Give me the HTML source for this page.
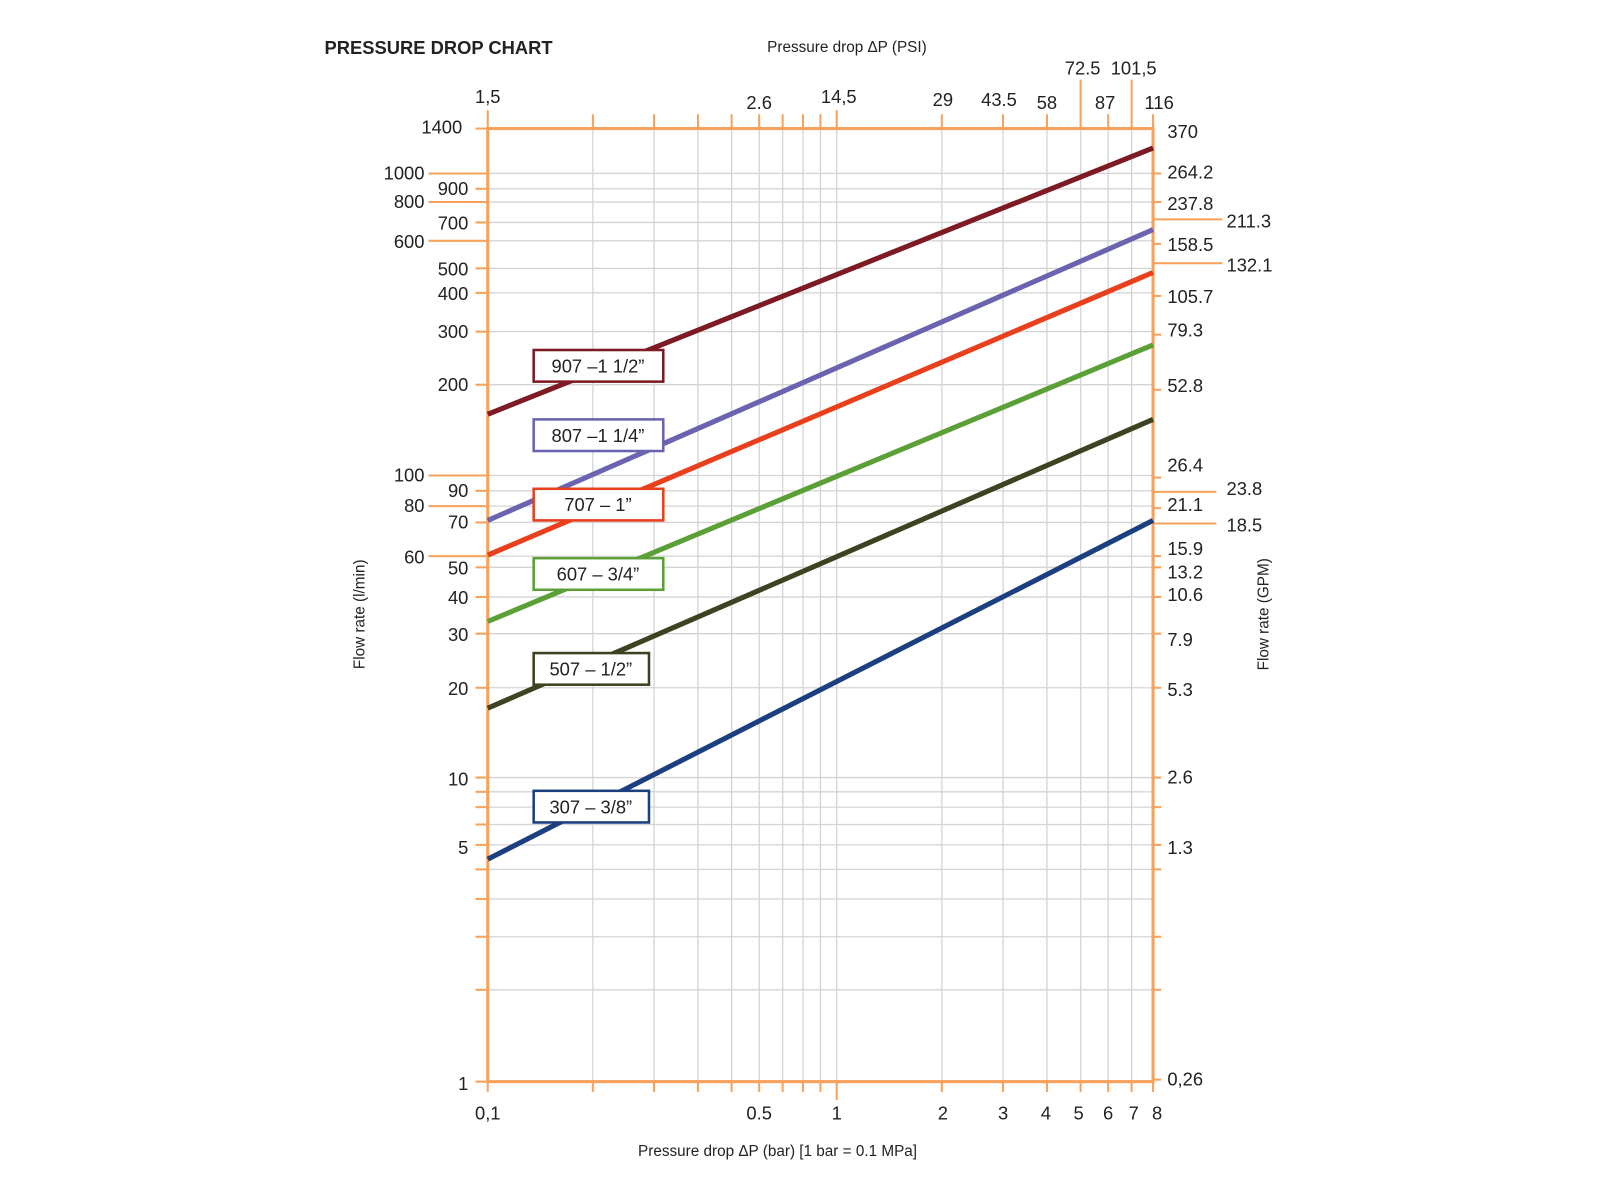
<!DOCTYPE html>
<html><head><meta charset="utf-8"><style>html,body{margin:0;padding:0;background:#fff}svg{display:block}text{font-family:"Liberation Sans",Arial,sans-serif;fill:#222}</style></head>
<body>
<svg width="1600" height="1200" viewBox="0 0 1568 1176" xmlns="http://www.w3.org/2000/svg">
<rect width="1568" height="1176" fill="#fff"/>
<g stroke="#d4d4d4" stroke-width="1.3">
<line x1="581" y1="126" x2="581" y2="1060"/><line x1="641" y1="126" x2="641" y2="1060"/><line x1="684" y1="126" x2="684" y2="1060"/><line x1="717" y1="126" x2="717" y2="1060"/><line x1="744" y1="126" x2="744" y2="1060"/><line x1="767" y1="126" x2="767" y2="1060"/><line x1="787" y1="126" x2="787" y2="1060"/><line x1="804" y1="126" x2="804" y2="1060"/><line x1="820" y1="126" x2="820" y2="1060"/><line x1="923" y1="126" x2="923" y2="1060"/><line x1="983" y1="126" x2="983" y2="1060"/><line x1="1026" y1="126" x2="1026" y2="1060"/><line x1="1059" y1="126" x2="1059" y2="1060"/><line x1="1086" y1="126" x2="1086" y2="1060"/><line x1="1109" y1="126" x2="1109" y2="1060"/>
<line x1="478" y1="170" x2="1130" y2="170"/><line x1="478" y1="185" x2="1130" y2="185"/><line x1="478" y1="198" x2="1130" y2="198"/><line x1="478" y1="218" x2="1130" y2="218"/><line x1="478" y1="236" x2="1130" y2="236"/><line x1="478" y1="263" x2="1130" y2="263"/><line x1="478" y1="287" x2="1130" y2="287"/><line x1="478" y1="325" x2="1130" y2="325"/><line x1="478" y1="377" x2="1130" y2="377"/><line x1="478" y1="466" x2="1130" y2="466"/><line x1="478" y1="481" x2="1130" y2="481"/><line x1="478" y1="496" x2="1130" y2="496"/><line x1="478" y1="512" x2="1130" y2="512"/><line x1="478" y1="545" x2="1130" y2="545"/><line x1="478" y1="556" x2="1130" y2="556"/><line x1="478" y1="585" x2="1130" y2="585"/><line x1="478" y1="621" x2="1130" y2="621"/><line x1="478" y1="674" x2="1130" y2="674"/><line x1="478" y1="762" x2="1130" y2="762"/><line x1="478" y1="776" x2="1130" y2="776"/><line x1="478" y1="791" x2="1130" y2="791"/><line x1="478" y1="808" x2="1130" y2="808"/><line x1="478" y1="828" x2="1130" y2="828"/><line x1="478" y1="852" x2="1130" y2="852"/><line x1="478" y1="881" x2="1130" y2="881"/><line x1="478" y1="918" x2="1130" y2="918"/><line x1="478" y1="970" x2="1130" y2="970"/>
</g>
<g stroke="#f7a15a" stroke-width="2">
<rect x="478" y="126" width="652" height="934" fill="none" stroke-width="3"/>
<line x1="478" y1="108" x2="478" y2="126"/><line x1="581" y1="112" x2="581" y2="126"/><line x1="641" y1="112" x2="641" y2="126"/><line x1="684" y1="112" x2="684" y2="126"/><line x1="717" y1="112" x2="717" y2="126"/><line x1="744" y1="112" x2="744" y2="126"/><line x1="767" y1="112" x2="767" y2="126"/><line x1="787" y1="112" x2="787" y2="126"/><line x1="804" y1="112" x2="804" y2="126"/><line x1="820" y1="108" x2="820" y2="126"/><line x1="923" y1="112" x2="923" y2="126"/><line x1="983" y1="112" x2="983" y2="126"/><line x1="1026" y1="112" x2="1026" y2="126"/><line x1="1059" y1="78" x2="1059" y2="126"/><line x1="1086" y1="112" x2="1086" y2="126"/><line x1="1109" y1="78" x2="1109" y2="126"/><line x1="1130" y1="112" x2="1130" y2="126"/>
<line x1="478" y1="1060" x2="478" y2="1070"/><line x1="581" y1="1060" x2="581" y2="1070"/><line x1="641" y1="1060" x2="641" y2="1070"/><line x1="684" y1="1060" x2="684" y2="1070"/><line x1="717" y1="1060" x2="717" y2="1070"/><line x1="744" y1="1060" x2="744" y2="1070"/><line x1="767" y1="1060" x2="767" y2="1070"/><line x1="787" y1="1060" x2="787" y2="1070"/><line x1="804" y1="1060" x2="804" y2="1070"/><line x1="820" y1="1060" x2="820" y2="1078"/><line x1="923" y1="1060" x2="923" y2="1070"/><line x1="983" y1="1060" x2="983" y2="1070"/><line x1="1026" y1="1060" x2="1026" y2="1070"/><line x1="1059" y1="1060" x2="1059" y2="1070"/><line x1="1086" y1="1060" x2="1086" y2="1070"/><line x1="1109" y1="1060" x2="1109" y2="1070"/><line x1="1130" y1="1060" x2="1130" y2="1070"/>
<line x1="466" y1="126" x2="478" y2="126"/><line x1="420" y1="170" x2="478" y2="170"/><line x1="466" y1="185" x2="478" y2="185"/><line x1="420" y1="198" x2="478" y2="198"/><line x1="466" y1="218" x2="478" y2="218"/><line x1="420" y1="236" x2="478" y2="236"/><line x1="466" y1="263" x2="478" y2="263"/><line x1="466" y1="287" x2="478" y2="287"/><line x1="466" y1="325" x2="478" y2="325"/><line x1="466" y1="377" x2="478" y2="377"/><line x1="420" y1="466" x2="478" y2="466"/><line x1="466" y1="481" x2="478" y2="481"/><line x1="420" y1="496" x2="478" y2="496"/><line x1="466" y1="512" x2="478" y2="512"/><line x1="420" y1="545" x2="478" y2="545"/><line x1="466" y1="556" x2="478" y2="556"/><line x1="466" y1="585" x2="478" y2="585"/><line x1="466" y1="621" x2="478" y2="621"/><line x1="466" y1="674" x2="478" y2="674"/><line x1="466" y1="762" x2="478" y2="762"/><line x1="466" y1="776" x2="478" y2="776"/><line x1="466" y1="791" x2="478" y2="791"/><line x1="466" y1="808" x2="478" y2="808"/><line x1="466" y1="828" x2="478" y2="828"/><line x1="466" y1="852" x2="478" y2="852"/><line x1="466" y1="881" x2="478" y2="881"/><line x1="466" y1="918" x2="478" y2="918"/><line x1="466" y1="970" x2="478" y2="970"/><line x1="466" y1="1060" x2="478" y2="1060"/>
<line x1="1130" y1="170" x2="1138" y2="170"/><line x1="1130" y1="198" x2="1138" y2="198"/><line x1="1130" y1="215" x2="1198" y2="215"/><line x1="1130" y1="239" x2="1138" y2="239"/><line x1="1130" y1="258" x2="1198" y2="258"/><line x1="1130" y1="290" x2="1138" y2="290"/><line x1="1130" y1="328" x2="1138" y2="328"/><line x1="1130" y1="382" x2="1138" y2="382"/><line x1="1130" y1="468" x2="1138" y2="468"/><line x1="1130" y1="482" x2="1192" y2="482"/><line x1="1130" y1="498" x2="1138" y2="498"/><line x1="1130" y1="513" x2="1192" y2="513"/><line x1="1130" y1="545" x2="1138" y2="545"/><line x1="1130" y1="556" x2="1138" y2="556"/><line x1="1130" y1="585" x2="1138" y2="585"/><line x1="1130" y1="621" x2="1138" y2="621"/><line x1="1130" y1="674" x2="1138" y2="674"/><line x1="1130" y1="762" x2="1138" y2="762"/><line x1="1130" y1="791" x2="1138" y2="791"/><line x1="1130" y1="828" x2="1138" y2="828"/><line x1="1130" y1="852" x2="1138" y2="852"/><line x1="1130" y1="918" x2="1138" y2="918"/><line x1="1130" y1="970" x2="1138" y2="970"/><line x1="1130" y1="1058" x2="1138" y2="1058"/>
</g>
<g stroke-width="5" stroke-linecap="butt">
<line x1="478" y1="406" x2="1130" y2="145" stroke="#7d1a24"/>
<line x1="478" y1="510" x2="1130" y2="225" stroke="#6a64b0"/>
<line x1="478" y1="544" x2="1130" y2="267" stroke="#e8401c"/>
<line x1="478" y1="609" x2="1130" y2="338" stroke="#5aa036"/>
<line x1="478" y1="694" x2="1130" y2="411" stroke="#3d4220"/>
<line x1="478" y1="842" x2="1130" y2="510" stroke="#1c3f7f"/>
</g>
<g stroke-width="2.5" fill="#fff">
<rect x="523" y="343" width="127" height="31" stroke="#7d1a24"/>
<rect x="523" y="411" width="127" height="31" stroke="#6a64b0"/>
<rect x="523" y="479" width="127" height="31" stroke="#e8401c"/>
<rect x="523" y="547" width="127" height="31" stroke="#5aa036"/>
<rect x="523" y="640" width="113" height="31" stroke="#3d4220"/>
<rect x="523" y="775" width="113" height="31" stroke="#1c3f7f"/>
</g>
<g font-size="18" text-anchor="middle">
<text x="586" y="365">907 –1 1/2”</text>
<text x="586" y="433">807 –1 1/4”</text>
<text x="586" y="501">707 – 1”</text>
<text x="586" y="569">607 – 3/4”</text>
<text x="579" y="662">507 – 1/2”</text>
<text x="579" y="797">307 – 3/8”</text>
</g>
<text x="318" y="53" font-size="18" font-weight="bold">PRESSURE DROP CHART</text>
<text x="830" y="51" font-size="15" text-anchor="middle">Pressure drop ΔP (PSI)</text>
<text x="762" y="1133" font-size="15" text-anchor="middle">Pressure drop ΔP (bar) [1 bar = 0.1 MPa]</text>
<text transform="translate(357,602) rotate(-90)" font-size="15" text-anchor="middle">Flow rate (l/min)</text>
<text transform="translate(1243,602) rotate(-90)" font-size="15" text-anchor="middle">Flow rate (GPM)</text>
<g font-size="18" text-anchor="middle">
<text x="478" y="101">1,5</text><text x="744" y="107">2.6</text><text x="822" y="101">14,5</text><text x="924" y="104">29</text><text x="979" y="104">43.5</text><text x="1026" y="107">58</text><text x="1061" y="73">72.5</text><text x="1111" y="73">101,5</text><text x="1083" y="107">87</text><text x="1136" y="107">116</text>
<text x="478" y="1097">0,1</text><text x="744" y="1097">0.5</text><text x="820" y="1097">1</text><text x="924" y="1097">2</text><text x="983" y="1097">3</text><text x="1025" y="1097">4</text><text x="1057" y="1097">5</text><text x="1086" y="1097">6</text><text x="1111" y="1097">7</text><text x="1134" y="1097">8</text>
</g>
<g font-size="18" text-anchor="end">
<text x="453" y="131">1400</text><text x="416" y="176">1000</text><text x="459" y="191">900</text><text x="416" y="204">800</text><text x="459" y="225">700</text><text x="416" y="243">600</text><text x="459" y="270">500</text><text x="459" y="294">400</text><text x="459" y="331">300</text><text x="459" y="383">200</text><text x="416" y="472">100</text><text x="459" y="487">90</text><text x="416" y="502">80</text><text x="459" y="518">70</text><text x="416" y="552">60</text><text x="459" y="563">50</text><text x="459" y="592">40</text><text x="459" y="628">30</text><text x="459" y="681">20</text><text x="459" y="770">10</text><text x="459" y="837">5</text><text x="459" y="1068">1</text>
</g>
<g font-size="18">
<text x="1144" y="135">370</text><text x="1144" y="175">264.2</text><text x="1144" y="206">237.8</text><text x="1202" y="223">211.3</text><text x="1144" y="246">158.5</text><text x="1202" y="266">132.1</text><text x="1144" y="297">105.7</text><text x="1144" y="330">79.3</text><text x="1144" y="384">52.8</text><text x="1144" y="462">26.4</text><text x="1202" y="485">23.8</text><text x="1144" y="501">21.1</text><text x="1202" y="521">18.5</text><text x="1144" y="544">15.9</text><text x="1144" y="567">13.2</text><text x="1144" y="589">10.6</text><text x="1144" y="633">7.9</text><text x="1144" y="682">5.3</text><text x="1144" y="768">2.6</text><text x="1144" y="837">1.3</text><text x="1144" y="1064">0,26</text>
</g>
</svg>
</body></html>
